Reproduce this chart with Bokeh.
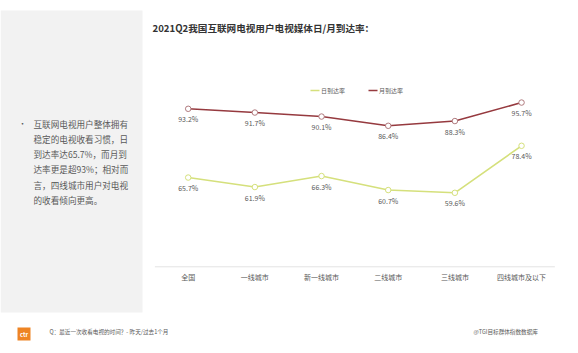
from bokeh.plotting import figure
from bokeh.models import Range1d
from bokeh.core.properties import value
from bokeh.embed import file_html
from bokeh.resources import INLINE

# ---- data ----
categories = ["全国", "一线城市", "新一线城市", "二线城市", "三线城市", "四线城市及以下"]
daily = [65.7, 61.9, 66.3, 60.7, 59.6, 78.4]
monthly = [93.2, 91.7, 90.1, 86.4, 88.3, 95.7]
series_names = ["日到达率", "月到达率"]
title_text = "2021Q2我国互联网电视用户电视媒体日/月到达率："
note_lines = [
    "互联网电视用户整体拥有",
    "稳定的电视收看习惯，日",
    "到达率达65.7%，而月到",
    "达率更是超93%；相对而",
    "言，四线城市用户对电视",
    "的收看倾向更高。",
]
footer_left = "Q：最近一次收看电视的时间？- 昨天/过去1个月"
footer_right = "@TGI目标群体指数数据库"

# ---- layout constants ----
W, H = 578, 353
X0, DX = 187.7, 66.67        # pixel position of first category, spacing
AXIS_PX, PPU, VMIN = 266.3, 2.5, 30.0
FONT = value("Noto Sans CJK SC")
GREEN = "#D5E07C"
RED = "#963A3F"
GREY_TXT = "#595959"

p = figure(width=W, height=H, min_border=0, x_axis_location=None, y_axis_location=None,
           toolbar_location=None, output_backend="svg",
           x_range=Range1d(-X0 / DX, (W - X0) / DX),
           y_range=Range1d(VMIN - (H - AXIS_PX) / PPU, VMIN + AXIS_PX / PPU))
p.extra_x_ranges = {"px": Range1d(0, W)}
p.extra_y_ranges = {"px": Range1d(H, 0)}
p.grid.visible = False
p.outline_line_color = None
p.background_fill_color = "white"
p.border_fill_color = "white"

n = len(categories)
idx = list(range(n))

# left grey panel
p.quad(left=[0], right=[142], top=[10], bottom=[312], x_range_name="px", y_range_name="px",
       fill_color="#F2F2F2", line_color=None)
p.text(x=[22], y=[123], text=["•"], x_range_name="px", y_range_name="px",
       text_font=FONT, text_font_size="8px", text_color=GREY_TXT,
       text_align="center", text_baseline="middle")
p.text(x=[33] * len(note_lines), y=[123.3 + 15.2 * i for i in range(len(note_lines))],
       text=note_lines, x_range_name="px", y_range_name="px",
       text_font=FONT, text_font_size="8.6px", text_color=GREY_TXT,
       text_align="left", text_baseline="middle")

# title
p.text(x=[152], y=[27], text=[title_text], x_range_name="px", y_range_name="px",
       text_font=FONT, text_font_size="9.6px", text_font_style="bold", text_color="#333333",
       text_align="left", text_baseline="middle")

# legend
p.segment(x0=[310], x1=[319], y0=[90], y1=[90], x_range_name="px", y_range_name="px",
          line_color=GREEN, line_width=1.5)
p.segment(x0=[368], x1=[377], y0=[90], y1=[90], x_range_name="px", y_range_name="px",
          line_color=RED, line_width=1.5)
p.text(x=[320.5, 378.5], y=[90, 90], text=series_names, x_range_name="px", y_range_name="px",
       text_font=FONT, text_font_size="6px", text_color=GREY_TXT,
       text_align="left", text_baseline="middle")

# axis line and category labels
p.segment(x0=[-0.5], x1=[n - 0.5], y0=[VMIN], y1=[VMIN], line_color="#E3E3E3", line_width=1)
p.text(x=idx, y=[VMIN] * n, text=categories, y_offset=10.5,
       text_font=FONT, text_font_size="7px", text_color=GREY_TXT,
       text_align="center", text_baseline="middle")

# series
p.line(idx, monthly, line_color=RED, line_width=1.6)
p.scatter(idx, monthly, size=5.5, fill_color="white", line_color="#B07A7E", line_width=1)
p.line(idx, daily, line_color=GREEN, line_width=1.6)
p.scatter(idx, daily, size=5.5, fill_color="white", line_color=GREEN, line_width=1)

p.text(x=idx, y=monthly, text=[f"{v:.1f}%" for v in monthly], y_offset=10.5,
       text_font=FONT, text_font_size="7px", text_color=GREY_TXT,
       text_align="center", text_baseline="middle")
p.text(x=idx, y=daily, text=[f"{v:.1f}%" for v in daily], y_offset=10.5,
       text_font=FONT, text_font_size="7px", text_color=GREY_TXT,
       text_align="center", text_baseline="middle")

# footer
p.quad(left=[17], right=[30], top=[327], bottom=[340], x_range_name="px", y_range_name="px",
       fill_color="#EE8424", line_color=None)
p.text(x=[23.5], y=[333.5], text=["ctr"], x_range_name="px", y_range_name="px",
       text_font=FONT, text_font_size="6px", text_font_style="bold", text_color="white",
       text_align="center", text_baseline="middle")
p.text(x=[49], y=[331], text=[footer_left], x_range_name="px", y_range_name="px",
       text_font=FONT, text_font_size="5.6px", text_color=GREY_TXT,
       text_align="left", text_baseline="middle")
p.text(x=[473], y=[331], text=[footer_right], x_range_name="px", y_range_name="px",
       text_font=FONT, text_font_size="5.6px", text_color=GREY_TXT,
       text_align="left", text_baseline="middle")

open("out.html", "w").write(file_html(p, INLINE))
